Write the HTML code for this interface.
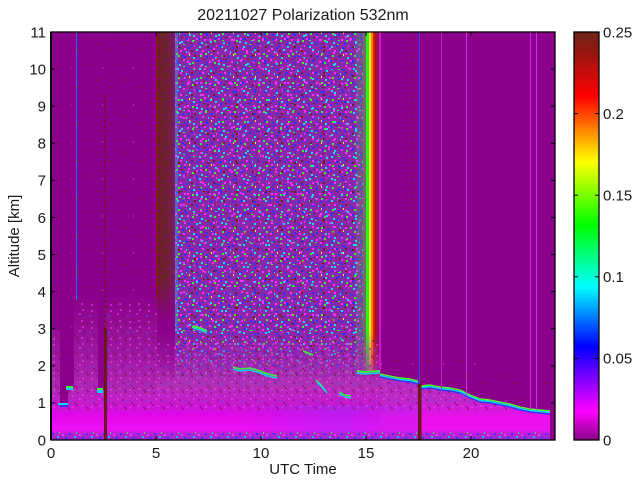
<!DOCTYPE html>
<html><head><meta charset="utf-8"><style>
html,body{margin:0;padding:0;background:#fff;}
svg{display:block;}
text{font-family:"Liberation Sans",Arial,Helvetica,sans-serif;fill:#1a1a1a;}
</style></head><body>
<svg width="640" height="480" viewBox="0 0 640 480" xmlns="http://www.w3.org/2000/svg">
<defs>
<clipPath id="plot"><rect x="51" y="32" width="504" height="408"/></clipPath>
<clipPath id="layers">
<polygon points="51,330 60,330 60,403 68,403 68,387 74,387 74,298 98,298 98,390 104,390 104,292 157,292 157,440 51,440"/>
<rect x="157" y="340" width="223" height="100"/>
<polygon points="380,376 390,378 400,380 410,381 418,383 421,388 430,387 440,389 450,390 460,392 470,397 480,401 490,402 500,404 510,406 520,409 530,411 540,412 550,413 550,440 380,440"/>
</clipPath>
<linearGradient id="cbar" x1="0" y1="1" x2="0" y2="0">
<stop offset="0" stop-color="#880488"/>
<stop offset="0.07" stop-color="#ff00ff"/>
<stop offset="0.229" stop-color="#0000ff"/>
<stop offset="0.376" stop-color="#00ffff"/>
<stop offset="0.527" stop-color="#00ff00"/>
<stop offset="0.682" stop-color="#ffff00"/>
<stop offset="0.843" stop-color="#ff0000"/>
<stop offset="0.94" stop-color="#a01410"/>
<stop offset="1" stop-color="#6a2418"/>
</linearGradient>
<linearGradient id="gL" gradientUnits="userSpaceOnUse" x1="0" y1="292" x2="0" y2="440">
<stop offset="0" stop-color="#8b008b"/>
<stop offset="0.257" stop-color="#941094"/>
<stop offset="0.459" stop-color="#a01aa4"/>
<stop offset="0.662" stop-color="#b028b4"/>
<stop offset="0.764" stop-color="#c818d0"/>
<stop offset="0.831" stop-color="#e008e8"/>
<stop offset="0.932" stop-color="#f010f4"/>
<stop offset="0.953" stop-color="#c020d8"/>
<stop offset="1" stop-color="#8a28c8"/>
</linearGradient>
<linearGradient id="gM" gradientUnits="userSpaceOnUse" x1="0" y1="330" x2="0" y2="440">
<stop offset="0" stop-color="#a020a8" stop-opacity="0"/>
<stop offset="0.273" stop-color="#a828b0" stop-opacity="0.5"/>
<stop offset="0.5" stop-color="#b030b4" stop-opacity="1"/>
<stop offset="0.682" stop-color="#c818d0"/>
<stop offset="0.773" stop-color="#e008e8"/>
<stop offset="0.909" stop-color="#f010f4"/>
<stop offset="0.936" stop-color="#c020d8"/>
<stop offset="1" stop-color="#8a30d0"/>
</linearGradient>
<linearGradient id="gR" gradientUnits="userSpaceOnUse" x1="0" y1="372" x2="0" y2="440">
<stop offset="0" stop-color="#b030b8"/>
<stop offset="0.41" stop-color="#bc28c4"/>
<stop offset="0.56" stop-color="#d818e0"/>
<stop offset="0.68" stop-color="#ec10ec"/>
<stop offset="0.85" stop-color="#f010f4"/>
<stop offset="0.9" stop-color="#c020d8"/>
<stop offset="1" stop-color="#8a30d0"/>
</linearGradient>
<linearGradient id="gViolet" gradientUnits="userSpaceOnUse" x1="240" y1="0" x2="380" y2="0">
<stop offset="0" stop-color="#7040ff" stop-opacity="0"/>
<stop offset="0.7" stop-color="#7040ff" stop-opacity="0.3"/>
<stop offset="1" stop-color="#7040ff" stop-opacity="0.15"/>
</linearGradient>
<linearGradient id="gBrown" x1="0" y1="0" x2="1" y2="0">
<stop offset="0" stop-color="#6a2020"/>
<stop offset="0.55" stop-color="#6c2230"/>
<stop offset="1" stop-color="#7a1c66"/>
</linearGradient>
<linearGradient id="gBrownV" x1="0" y1="0" x2="0" y2="1">
<stop offset="0" stop-color="#fff" stop-opacity="1"/>
<stop offset="0.85" stop-color="#fff" stop-opacity="1"/>
<stop offset="1" stop-color="#fff" stop-opacity="0"/>
</linearGradient>
<mask id="mBrown"><rect x="157" y="32" width="18" height="290" fill="url(#gBrownV)"/></mask>
<pattern id="pA" width="22" height="22" patternUnits="userSpaceOnUse">
<rect x="1" y="2" width="2" height="2" fill="#10e0f0"/>
<rect x="7" y="0" width="2" height="1" fill="#40f030"/>
<rect x="12" y="3" width="2" height="2" fill="#3030f8"/>
<rect x="18" y="1" width="1" height="2" fill="#ff30ff"/>
<rect x="4" y="6" width="2" height="2" fill="#ff30ff"/>
<rect x="10" y="7" width="1" height="2" fill="#10e0f0"/>
<rect x="15" y="6" width="2" height="2" fill="#6e1c1c"/>
<rect x="20" y="8" width="2" height="1" fill="#3030f8"/>
<rect x="2" y="11" width="2" height="2" fill="#40f030"/>
<rect x="8" y="12" width="2" height="2" fill="#3030f8"/>
<rect x="13" y="10" width="1" height="2" fill="#f0f020"/>
<rect x="17" y="13" width="2" height="2" fill="#10e0f0"/>
<rect x="0" y="16" width="2" height="2" fill="#3030f8"/>
<rect x="5" y="15" width="2" height="1" fill="#6e1c1c"/>
<rect x="11" y="17" width="2" height="2" fill="#ff30ff"/>
<rect x="16" y="18" width="2" height="2" fill="#40f030"/>
<rect x="20" y="16" width="2" height="2" fill="#ff30ff"/>
<rect x="3" y="20" width="2" height="2" fill="#10e0f0"/>
<rect x="9" y="20" width="1" height="2" fill="#3030f8"/>
<rect x="14" y="21" width="2" height="1" fill="#6e1c1c"/>
</pattern>
<pattern id="pB" width="29" height="29" patternUnits="userSpaceOnUse">
<rect x="3" y="4" width="2" height="2" fill="#3030f8"/>
<rect x="9" y="1" width="2" height="2" fill="#ff30ff"/>
<rect x="15" y="5" width="2" height="2" fill="#10e0f0"/>
<rect x="22" y="2" width="2" height="2" fill="#3030f8"/>
<rect x="26" y="7" width="2" height="2" fill="#ff30ff"/>
<rect x="1" y="10" width="2" height="2" fill="#ff30ff"/>
<rect x="7" y="12" width="2" height="2" fill="#10e0f0"/>
<rect x="12" y="9" width="2" height="2" fill="#3030f8"/>
<rect x="19" y="11" width="2" height="1" fill="#40f030"/>
<rect x="25" y="14" width="2" height="2" fill="#3030f8"/>
<rect x="4" y="17" width="2" height="2" fill="#6e1c1c"/>
<rect x="10" y="19" width="2" height="2" fill="#ff30ff"/>
<rect x="17" y="16" width="2" height="2" fill="#3030f8"/>
<rect x="22" y="20" width="2" height="2" fill="#10e0f0"/>
<rect x="2" y="24" width="2" height="2" fill="#40f030"/>
<rect x="8" y="26" width="2" height="2" fill="#3030f8"/>
<rect x="14" y="23" width="2" height="2" fill="#ff30ff"/>
<rect x="20" y="26" width="2" height="2" fill="#6e1c1c"/>
<rect x="26" y="24" width="2" height="2" fill="#ff30ff"/>
<rect x="13" y="0" width="1" height="2" fill="#ff2020"/>
</pattern>
<pattern id="pC" width="19" height="17" patternUnits="userSpaceOnUse">
<rect x="1" y="1" width="2" height="2" fill="#8b008b"/>
<rect x="6" y="3" width="2" height="2" fill="#ff40ff"/>
<rect x="11" y="0" width="2" height="2" fill="#6a1a30"/>
<rect x="15" y="4" width="2" height="2" fill="#ff40ff"/>
<rect x="3" y="7" width="2" height="2" fill="#ff40ff"/>
<rect x="8" y="8" width="2" height="2" fill="#8b008b"/>
<rect x="13" y="9" width="2" height="2" fill="#5050ff"/>
<rect x="17" y="11" width="2" height="2" fill="#8b008b"/>
<rect x="0" y="13" width="2" height="2" fill="#6a1a30"/>
<rect x="5" y="14" width="2" height="2" fill="#ff40ff"/>
<rect x="10" y="15" width="2" height="2" fill="#8b008b"/>
<rect x="15" y="15" width="2" height="2" fill="#ff40ff"/>
</pattern>
<pattern id="pD" width="31" height="37" patternUnits="userSpaceOnUse">
<rect x="3" y="5" width="1" height="2" fill="#6a1a18"/>
<rect x="17" y="12" width="1" height="2" fill="#6a1a18"/>
<rect x="26" y="27" width="1" height="2" fill="#6a1a18"/>
<rect x="9" y="30" width="1" height="2" fill="#c020d0"/>
<rect x="22" y="2" width="1" height="1" fill="#6a1a18"/>
</pattern>
<pattern id="pE" width="13" height="11" patternUnits="userSpaceOnUse">
<rect x="2" y="1" width="2" height="2" fill="#8b008b"/>
<rect x="9" y="4" width="2" height="2" fill="#8b008b"/>
<rect x="5" y="8" width="2" height="1" fill="#a01080"/>
</pattern>
<pattern id="pF" width="17" height="8" patternUnits="userSpaceOnUse">
<rect x="1" y="1" width="2" height="2" fill="#3030ff"/>
<rect x="6" y="4" width="2" height="2" fill="#10d0f0"/>
<rect x="11" y="2" width="2" height="2" fill="#ff40ff"/>
<rect x="14" y="5" width="2" height="2" fill="#3030ff"/>
<rect x="8" y="0" width="1" height="2" fill="#40f030"/>
</pattern>
</defs>

<!-- title -->
<text x="303" y="20" font-size="16" text-anchor="middle">20211027 Polarization 532nm</text>

<g clip-path="url(#plot)">
<rect x="51" y="32" width="504" height="408" fill="#8b008b"/>
<!-- sparse dots left -->
<rect x="76" y="32" width="81" height="270" fill="url(#pD)"/>
<rect x="51" y="32" width="25" height="300" fill="url(#pD)" opacity="0.5"/>
<!-- brown band -->
<g mask="url(#mBrown)">
<rect x="157" y="32" width="18" height="290" fill="url(#gBrown)"/>
<rect x="157" y="32" width="18" height="290" fill="url(#pE)"/>
</g>
<!-- colourful noise region -->
<rect x="175" y="32" width="188" height="365" fill="#8a28aa"/>
<rect x="175" y="32" width="188" height="365" fill="url(#pA)"/>
<rect x="175" y="32" width="188" height="365" fill="url(#pB)"/>
<rect x="175" y="32" width="3" height="300" fill="#30c0e0" opacity="0.35"/>
<!-- stripes -->
<rect x="356" y="32" width="7" height="340" fill="#40c060" opacity="0.25"/>
<rect x="363" y="32" width="3" height="340" fill="#5ac040" opacity="0.6"/>
<rect x="366" y="32" width="3" height="340" fill="#30f020"/>
<rect x="369" y="32" width="2" height="340" fill="#e0f020"/>
<rect x="371" y="32" width="2" height="340" fill="#ff8000"/>
<rect x="373" y="32" width="1.5" height="340" fill="#ff1010"/>
<rect x="374.5" y="32" width="2.5" height="340" fill="#a01818"/>
<rect x="377" y="32" width="2.3" height="340" fill="#8a1060"/>
<rect x="379.3" y="32" width="1.4" height="340" fill="#ff10ff"/>
<!-- lower aerosol layers -->
<polygon points="51,330 60,330 60,403 68,403 68,387 74,387 74,298 98,298 98,390 104,390 104,292 157,292 157,440 51,440" fill="url(#gL)"/>
<rect x="157" y="330" width="223" height="110" fill="url(#gM)"/>
<polygon points="380,376 390,378 400,380 410,381 418,383 421,388 430,387 440,389 450,390 460,392 470,397 480,401 490,402 500,404 510,406 520,409 530,411 540,412 550,413 550,440 380,440" fill="url(#gR)"/>
<rect x="51" y="300" width="499" height="110" fill="url(#pC)" clip-path="url(#layers)" opacity="0.5"/>
<rect x="240" y="405" width="180" height="28" fill="url(#gViolet)"/>
<rect x="51" y="432" width="499" height="8" fill="url(#pF)" opacity="0.8"/>
<!-- brown speckles above right boundary -->
<polygon points="380,345 418,348 421,352 470,360 520,372 550,378 550,413 540,412 530,411 520,409 510,406 500,404 490,402 480,401 470,397 460,392 450,390 440,389 430,387 421,388 418,383 410,381 400,380 390,378 380,376" fill="url(#pD)"/>
<!-- boundary lines right -->
<g fill="none" stroke-linejoin="round">
<polyline points="380,374 390,376 400,378 410,379 418,381" stroke="#50ff20" stroke-width="1.4"/>
<polyline points="380,375.5 390,377.5 400,379.5 410,380.5 418,382.5" stroke="#00e0ff" stroke-width="1.4"/>
<polyline points="380,377 390,379 400,381 410,382 418,384" stroke="#3030ff" stroke-width="1.2"/>
<polyline points="421,386 430,385 440,387 450,388 460,390 470,395 480,399 490,400 500,402 510,404 520,407 530,409 540,410 550,411" stroke="#50ff20" stroke-width="1.4"/>
<polyline points="421,387.5 430,386.5 440,388.5 450,389.5 460,391.5 470,396.5 480,400.5 490,401.5 500,403.5 510,405.5 520,408.5 530,410.5 540,411.5 550,412.5" stroke="#00e0ff" stroke-width="1.4"/>
<polyline points="421,389 430,388 440,390 450,391 460,393 470,398 480,402 490,403 500,405 510,407 520,410 530,412 540,413 550,414" stroke="#3030ff" stroke-width="1.2"/>
<!-- middle segments -->
<polyline points="233,367 240,369 250,368 260,371 268,374 277,376" stroke="#40f040" stroke-width="1.5"/>
<polyline points="233,369 240,371 250,370 260,373 268,376 277,378" stroke="#10d0f0" stroke-width="1.5"/>
<polyline points="193,326 200,328 207,331" stroke="#40f040" stroke-width="2"/>
<polyline points="193,328 200,330 207,333" stroke="#10d0f0" stroke-width="1.5"/>
<polyline points="303,351 313,355" stroke="#40f040" stroke-width="1.5"/>
<polyline points="316,380 321,385 326,391" stroke="#40f040" stroke-width="1.5"/>
<polyline points="317,382 322,387 327,393" stroke="#10d0f0" stroke-width="1.5"/>
<polyline points="339,392 345,395 351,396" stroke="#40f040" stroke-width="1.5"/>
<polyline points="339,394 345,397 351,398" stroke="#10d0f0" stroke-width="1.5"/>
<polyline points="357,371 365,372 380,371" stroke="#40f040" stroke-width="2"/>
<polyline points="357,373 365,374 380,373" stroke="#10d0f0" stroke-width="1.5"/>
</g>
<!-- left blips -->
<rect x="58" y="403" width="10" height="2" fill="#10d0f0"/>
<rect x="60" y="405" width="8" height="2" fill="#3030ff"/>
<rect x="66" y="386" width="7" height="2" fill="#40f040"/>
<rect x="66" y="388" width="7" height="2" fill="#10d0f0"/>
<rect x="97" y="388" width="6" height="2" fill="#40f040"/>
<rect x="97" y="390" width="6" height="3" fill="#10d0f0"/>
<!-- vertical lines -->
<line x1="76.5" y1="32" x2="76.5" y2="300" stroke="#1870ff" stroke-width="1"/>
<line x1="105" y1="95" x2="105" y2="330" stroke="#6a1a18" stroke-width="1.5" stroke-dasharray="3 2" opacity="0.85"/>
<rect x="104" y="328" width="3" height="112" fill="#6a1818"/>
<line x1="156.5" y1="32" x2="156.5" y2="300" stroke="#a01010" stroke-width="1"/>
<line x1="412.5" y1="32" x2="412.5" y2="215" stroke="#6a1a18" stroke-width="1" stroke-dasharray="2 3"/>
<line x1="419.5" y1="32" x2="419.5" y2="385" stroke="#4040f0" stroke-width="1"/>
<rect x="418" y="384" width="3.5" height="56" fill="#6a1818"/>
<line x1="441.5" y1="32" x2="441.5" y2="389" stroke="#c020d8" stroke-width="1"/>
<line x1="466.5" y1="32" x2="466.5" y2="396" stroke="#e020f0" stroke-width="1"/>
<line x1="530.5" y1="32" x2="530.5" y2="409" stroke="#d020e8" stroke-width="1"/>
<line x1="536.5" y1="32" x2="536.5" y2="410" stroke="#e020f0" stroke-width="1"/>
</g>

<!-- plot frame -->
<rect x="51" y="32" width="504" height="408" fill="none" stroke="#000" stroke-width="1.3"/>
<line x1="51" y1="32" x2="51" y2="440" stroke="#000" stroke-width="2"/>
<g stroke="#000" stroke-width="1">
<line x1="156" y1="440" x2="156" y2="436"/><line x1="261" y1="440" x2="261" y2="436"/><line x1="366" y1="440" x2="366" y2="436"/><line x1="471" y1="440" x2="471" y2="436"/>
<line x1="156" y1="32" x2="156" y2="36"/><line x1="261" y1="32" x2="261" y2="36"/><line x1="366" y1="32" x2="366" y2="36"/><line x1="471" y1="32" x2="471" y2="36"/>
<line x1="51" y1="402.9" x2="55" y2="402.9"/><line x1="551" y1="402.9" x2="555" y2="402.9"/>
<line x1="51" y1="365.8" x2="55" y2="365.8"/><line x1="551" y1="365.8" x2="555" y2="365.8"/>
<line x1="51" y1="328.7" x2="55" y2="328.7"/><line x1="551" y1="328.7" x2="555" y2="328.7"/>
<line x1="51" y1="291.6" x2="55" y2="291.6"/><line x1="551" y1="291.6" x2="555" y2="291.6"/>
<line x1="51" y1="254.5" x2="55" y2="254.5"/><line x1="551" y1="254.5" x2="555" y2="254.5"/>
<line x1="51" y1="217.5" x2="55" y2="217.5"/><line x1="551" y1="217.5" x2="555" y2="217.5"/>
<line x1="51" y1="180.4" x2="55" y2="180.4"/><line x1="551" y1="180.4" x2="555" y2="180.4"/>
<line x1="51" y1="143.3" x2="55" y2="143.3"/><line x1="551" y1="143.3" x2="555" y2="143.3"/>
<line x1="51" y1="106.2" x2="55" y2="106.2"/><line x1="551" y1="106.2" x2="555" y2="106.2"/>
<line x1="51" y1="69.1" x2="55" y2="69.1"/><line x1="551" y1="69.1" x2="555" y2="69.1"/>
</g>

<!-- y tick labels -->
<g font-size="15" text-anchor="end">
<text x="46" y="445.3">0</text>
<text x="46" y="408.2">1</text>
<text x="46" y="371.1">2</text>
<text x="46" y="334">3</text>
<text x="46" y="296.9">4</text>
<text x="46" y="259.8">5</text>
<text x="46" y="222.8">6</text>
<text x="46" y="185.7">7</text>
<text x="46" y="148.6">8</text>
<text x="46" y="111.5">9</text>
<text x="46" y="74.4">10</text>
<text x="46" y="37.3">11</text>
</g>
<!-- x tick labels -->
<g font-size="15" text-anchor="middle">
<text x="51" y="458">0</text>
<text x="156" y="458">5</text>
<text x="261" y="458">10</text>
<text x="366" y="458">15</text>
<text x="471" y="458">20</text>
</g>
<text x="303" y="474" font-size="15" text-anchor="middle">UTC Time</text>
<text transform="translate(19,236) rotate(-90)" font-size="15" text-anchor="middle">Altitude [km]</text>

<!-- colorbar -->
<rect x="574" y="32" width="25" height="408" fill="url(#cbar)" stroke="#000" stroke-width="1.3"/>
<g stroke="#000" stroke-width="1">
<line x1="574" y1="358.4" x2="578" y2="358.4"/><line x1="595" y1="358.4" x2="599" y2="358.4"/>
<line x1="574" y1="276.8" x2="578" y2="276.8"/><line x1="595" y1="276.8" x2="599" y2="276.8"/>
<line x1="574" y1="195.2" x2="578" y2="195.2"/><line x1="595" y1="195.2" x2="599" y2="195.2"/>
<line x1="574" y1="113.6" x2="578" y2="113.6"/><line x1="595" y1="113.6" x2="599" y2="113.6"/>
</g>
<g font-size="15">
<text x="603" y="37.3">0.25</text>
<text x="603" y="118.9">0.2</text>
<text x="603" y="200.5">0.15</text>
<text x="603" y="282.1">0.1</text>
<text x="603" y="363.7">0.05</text>
<text x="603" y="445.3">0</text>
</g>
</svg>
</body></html>
